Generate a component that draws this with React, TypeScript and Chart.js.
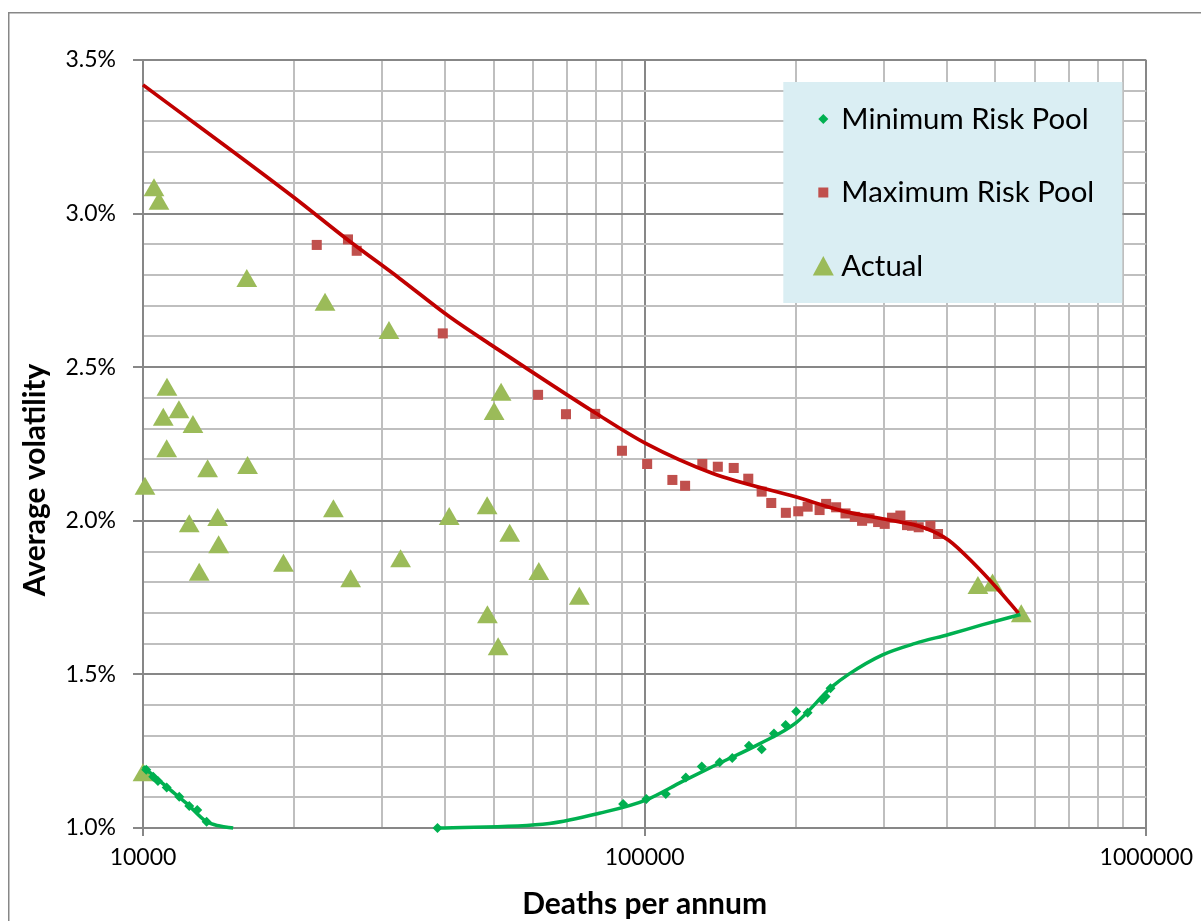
import React, { useEffect, useRef } from 'react';
import { Chart, registerables } from 'chart.js';

Chart.register(...registerables);

const FONT_FAMILY = 'Lato, "Open Sans", "DejaVu Sans", sans-serif';

// ---- Data ----
const actualDeaths = [10517, 10760, 16103, 23059, 30925, 11163, 10975, 11793, 12576, 11148, 10092, 13452, 16158, 12364, 14086, 14149, 12942, 19055, 23964, 25938, 32620, 40770, 48530, 50110, 51740, 53820, 48590, 51040, 61520, 74080, 10000, 461700, 493700, 563200];
const actualVol = [3.076, 3.032, 2.781, 2.703, 2.611, 2.427, 2.329, 2.353, 2.305, 2.226, 2.104, 2.161, 2.172, 1.982, 2.003, 1.914, 1.824, 1.854, 2.031, 1.803, 1.868, 2.006, 2.041, 2.348, 2.410, 1.951, 1.686, 1.582, 1.827, 1.746, 1.172, 1.781, 1.789, 1.689];

const maxPoolDeaths = [22200, 25620, 26670, 39590, 61310, 69690, 79700, 90100, 101150, 113570, 120400, 130300, 139900, 150500, 160900, 171100, 178800, 191200, 202400, 211300, 223200, 230000, 240800, 251400, 262400, 271300, 280700, 292000, 301000, 311200, 323400, 333400, 341100, 351800, 371200, 384400];
const maxPoolVol = [2.898, 2.916, 2.879, 2.610, 2.410, 2.347, 2.348, 2.228, 2.185, 2.133, 2.114, 2.185, 2.176, 2.172, 2.137, 2.095, 2.058, 2.026, 2.031, 2.046, 2.035, 2.055, 2.044, 2.024, 2.013, 2.000, 2.008, 1.996, 1.990, 2.010, 2.017, 1.986, 1.984, 1.979, 1.984, 1.957];

const minPoolDeaths = [10150, 10483, 10711, 11148, 11809, 12364, 12829, 13393, 38640, 90600, 100800, 110200, 120800, 129960, 141100, 149500, 161400, 171100, 181000, 191000, 200500, 211300, 225900, 229400, 234700];
const minPoolVol = [1.190, 1.167, 1.153, 1.132, 1.102, 1.072, 1.059, 1.020, 1.000, 1.078, 1.094, 1.111, 1.164, 1.200, 1.214, 1.228, 1.268, 1.256, 1.308, 1.335, 1.379, 1.375, 1.417, 1.428, 1.455];

const maxCurveDeaths = [10000, 19910, 25620, 32470, 40840, 50020, 79950, 100460, 136400, 199900, 251400, 302000, 362700, 403600, 456200, 507500, 556300];
const maxCurveVol = [3.419, 3.055, 2.914, 2.789, 2.664, 2.567, 2.350, 2.252, 2.155, 2.078, 2.030, 2.005, 1.976, 1.937, 1.856, 1.775, 1.699];

const minCurveADeaths = [10000, 11148, 12218, 13393, 14230, 15124];
const minCurveAVol = [1.200, 1.134, 1.080, 1.020, 1.0065, 1.000];

const minCurveBDeaths = [38640, 64570, 81200, 100550, 118750, 138600, 169000, 199900, 236400, 255300, 297300, 346500, 403600, 470100, 561000];
const minCurveBVol = [1.000, 1.015, 1.048, 1.091, 1.151, 1.205, 1.273, 1.341, 1.460, 1.501, 1.563, 1.601, 1.630, 1.661, 1.695];

const xTickLabels = [10000, 100000, 1000000];
const yTickLabels = ['1.0%', '1.5%', '2.0%', '2.5%', '3.0%', '3.5%'];
const seriesNames = ['Minimum Risk Pool', 'Maximum Risk Pool', 'Actual'];
const xAxisTitle = 'Deaths per annum';
const yAxisTitle = 'Average volatility';

// ---- Styles ----
const GREEN = '#00B050';
const RED_MARK = '#C0504D';
const RED_LINE = '#C00000';
const OLIVE = '#9BBB59';
const MAJOR_GRID = '#878787';
const MINOR_GRID = '#BFBFBF';

const Y_MIN = 1.0;
const Y_MAX = 3.5;
const Y_MINOR = 0.1;
const Y_MAJOR = 0.5;

const zip = (xs: number[], ys: number[]) => xs.map((x, i) => ({ x, y: ys[i] }));
const isMultiple = (v: number, step: number) => Math.abs(v / step - Math.round(v / step)) < 1e-6;
const isDecade = (v: number) => isMultiple(Math.log10(v), 1);

const drawMarker = (ctx: CanvasRenderingContext2D, style: string, x: number, y: number, color: string) => {
  ctx.fillStyle = color;
  ctx.beginPath();
  if (style === 'rectRot') {
    const r = 5;
    ctx.moveTo(x, y - r);
    ctx.lineTo(x + r, y);
    ctx.lineTo(x, y + r);
    ctx.lineTo(x - r, y);
  } else if (style === 'rect') {
    ctx.rect(x - 5, y - 5, 10, 10);
  } else {
    ctx.moveTo(x, y - 10);
    ctx.lineTo(x + 10.5, y + 9.5);
    ctx.lineTo(x - 10.5, y + 9.5);
  }
  ctx.closePath();
  ctx.fill();
};

const boxLegend = {
  id: 'boxLegend',
  afterDatasetsDraw(chart: any) {
    const { ctx, chartArea } = chart;
    const bx = chartArea.right - 363;
    const by = chartArea.top + 22;
    ctx.save();
    ctx.fillStyle = '#DAEEF3';
    ctx.fillRect(bx, by, 339, 221);
    const entries = chart.data.datasets.filter((d: any) => d.inLegend);
    entries.forEach((d: any, i: number) => {
      const cy = by + 37 + i * 73.5;
      drawMarker(ctx, d.pointStyle, bx + 40, cy, d.backgroundColor);
      ctx.fillStyle = '#000000';
      ctx.font = `29.4px ${FONT_FAMILY}`;
      ctx.textAlign = 'left';
      ctx.textBaseline = 'alphabetic';
      ctx.fillText(d.label, bx + 58, cy + 9.5);
    });
    ctx.restore();
  },
};

const yTitlePlugin = {
  id: 'yTitle',
  afterDraw(chart: any) {
    const { ctx, chartArea } = chart;
    ctx.save();
    ctx.translate(35, (chartArea.top + chartArea.bottom) / 2 + 36);
    ctx.rotate(-Math.PI / 2);
    ctx.fillStyle = '#000000';
    ctx.font = `bold 30px ${FONT_FAMILY}`;
    ctx.textAlign = 'center';
    ctx.textBaseline = 'middle';
    ctx.fillText(yAxisTitle, 0, 0);
    ctx.restore();
  },
};

const outerBorder = {
  id: 'outerBorder',
  beforeDraw(chart: any) {
    const { ctx } = chart;
    ctx.save();
    ctx.fillStyle = '#FFFFFF';
    ctx.fillRect(0, 0, chart.width, chart.height);
    ctx.strokeStyle = '#878787';
    ctx.lineWidth = 1.5;
    ctx.strokeRect(8.75, 12.75, chart.width + 50, chart.height + 50);
    ctx.restore();
  },
};

export default function App() {
  const canvasRef = useRef<HTMLCanvasElement | null>(null);

  useEffect(() => {
    if (!canvasRef.current) return;
    const tickFont = { family: FONT_FAMILY, size: 23 };
    const titleFont = { family: FONT_FAMILY, size: 30, weight: 'bold' as const, lineHeight: 1 };

    const curve = (label: string, xs: number[], ys: number[], color: string, width: number) =>
      ({
        label,
        data: zip(xs, ys),
        showLine: true,
        borderColor: color,
        borderWidth: width,
        pointRadius: 0,
        cubicInterpolationMode: 'monotone',
        fill: false,
        clip: false,
        order: 0,
      }) as any;

    const chart = new Chart(canvasRef.current, {
      type: 'scatter',
      data: {
        datasets: [
          curve('min-curve-a', minCurveADeaths, minCurveAVol, GREEN, 3.5),
          curve('min-curve-b', minCurveBDeaths, minCurveBVol, GREEN, 3.5),
          curve('max-curve', maxCurveDeaths, maxCurveVol, RED_LINE, 3.7),
          {
            label: seriesNames[0],
            inLegend: true,
            data: zip(minPoolDeaths, minPoolVol),
            pointStyle: 'rectRot',
            pointRadius: 5,
            backgroundColor: GREEN,
            borderColor: GREEN,
            borderWidth: 0,
            clip: false,
            order: 1,
          } as any,
          {
            label: seriesNames[1],
            inLegend: true,
            data: zip(maxPoolDeaths, maxPoolVol),
            pointStyle: 'rect',
            pointRadius: 7.1,
            backgroundColor: RED_MARK,
            borderColor: RED_MARK,
            borderWidth: 0,
            clip: false,
            order: 1,
          } as any,
          {
            label: seriesNames[2],
            inLegend: true,
            data: zip(actualDeaths, actualVol),
            pointStyle: 'triangle',
            pointRadius: 12,
            backgroundColor: OLIVE,
            borderColor: OLIVE,
            borderWidth: 0,
            clip: false,
            order: 2,
          } as any,
        ],
      },
      options: {
        animation: false,
        responsive: false,
        devicePixelRatio: 1,
        layout: { padding: { left: 0, top: 60, right: 53, bottom: 0 } },
        plugins: {
          legend: { display: false },
          tooltip: { enabled: false },
        },
        scales: {
          x: {
            type: 'logarithmic',
            min: xTickLabels[0],
            max: xTickLabels[xTickLabels.length - 1],
            afterBuildTicks: (scale: any) => {
              const ticks: { value: number }[] = [];
              for (let e = Math.log10(xTickLabels[0]); e < Math.log10(xTickLabels[xTickLabels.length - 1]); e++) {
                for (let m = 1; m <= 9; m++) ticks.push({ value: m * Math.pow(10, e) });
              }
              ticks.push({ value: xTickLabels[xTickLabels.length - 1] });
              scale.ticks = ticks;
            },
            afterFit: (scale: any) => {
              scale.height = 93;
            },
            ticks: {
              autoSkip: false,
              maxRotation: 0,
              minRotation: 0,
              padding: 8,
              color: '#000000',
              font: tickFont,
              callback: (v: any) => (xTickLabels.some((t) => Math.abs(t - Number(v)) < 1e-6) ? String(v) : ''),
            },
            grid: {
              color: (c: any) => (c.tick && isDecade(c.tick.value) ? MAJOR_GRID : MINOR_GRID),
              tickColor: (c: any) => (c.tick && isDecade(c.tick.value) ? MAJOR_GRID : 'rgba(0,0,0,0)'),
              lineWidth: 2,
              tickLength: 8,
              drawTicks: true,
            },
            border: { color: MAJOR_GRID, width: 2 },
            title: {
              display: true,
              text: xAxisTitle,
              color: '#000000',
              font: titleFont,
              padding: { top: 0, bottom: 1.5 },
            },
          },
          y: {
            type: 'linear',
            min: Y_MIN,
            max: Y_MAX,
            afterBuildTicks: (scale: any) => {
              const ticks: { value: number }[] = [];
              const n = Math.round((Y_MAX - Y_MIN) / Y_MINOR);
              for (let i = 0; i <= n; i++) ticks.push({ value: Math.round((Y_MIN + i * Y_MINOR) * 1000) / 1000 });
              scale.ticks = ticks;
            },
            afterFit: (scale: any) => {
              scale.width = 143;
            },
            ticks: {
              autoSkip: false,
              padding: 17,
              color: '#000000',
              font: tickFont,
              callback: (v: any) => {
                const val = Number(v);
                if (!isMultiple(val, Y_MAJOR)) return '';
                const idx = Math.round((val - Y_MIN) / Y_MAJOR);
                return yTickLabels[idx] ?? '';
              },
            },
            grid: {
              color: (c: any) => (c.tick && isMultiple(c.tick.value, Y_MAJOR) ? MAJOR_GRID : MINOR_GRID),
              tickColor: (c: any) => (c.tick && isMultiple(c.tick.value, Y_MAJOR) ? MAJOR_GRID : 'rgba(0,0,0,0)'),
              lineWidth: 2,
              tickLength: 10,
              drawTicks: true,
            },
            border: { color: MAJOR_GRID, width: 2 },
            title: { display: false },
          },
        },
      } as any,
      plugins: [outerBorder, boxLegend, yTitlePlugin],
    });

    return () => {
      chart.destroy();
    };
  }, []);

  return (
    <div style={{ position: 'fixed', left: 0, top: 0, width: 1201, height: 921, background: '#FFFFFF' }}>
      <canvas ref={canvasRef} width={1201} height={921} style={{ display: 'block', width: 1201, height: 921 }} />
    </div>
  );
}
